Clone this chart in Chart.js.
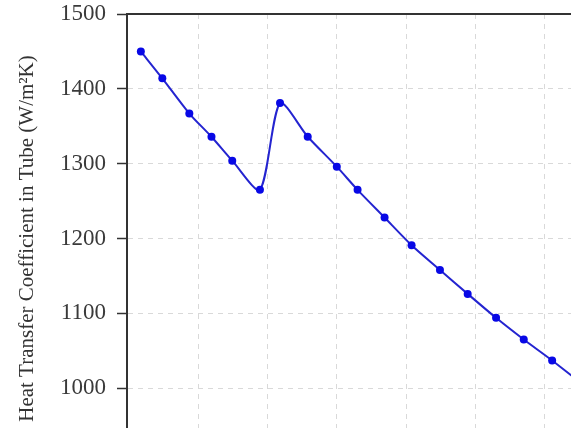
<!DOCTYPE html>
<html>
<head>
<meta charset="utf-8">
<script src="https://cdn.jsdelivr.net/npm/chart.js@4"></script>
<style>
  html, body { margin: 0; padding: 0; overflow: hidden; background: #fff; width: 571px; height: 428px; }
  canvas { position: absolute; left: 0; top: 0; }
</style>
</head>
<body>
<canvas id="c" width="700" height="480"></canvas>
<script>
// Position along the tube (grid units) and in-tube heat transfer coefficient
const positions    = [0.17, 0.48, 0.87, 1.19, 1.49, 1.89, 2.18, 2.58, 3.00, 3.30, 3.69, 4.08, 4.49, 4.89, 5.30, 5.70, 6.11, 6.51];
const coefficients = [1450, 1414, 1367, 1336, 1304, 1265, 1381, 1336, 1296, 1265, 1228, 1191, 1158, 1126, 1094, 1065, 1037, 1008];
const yTicks       = [900, 1000, 1100, 1200, 1300, 1400, 1500];
const xGridValues  = [1, 2, 3, 4, 5, 6, 7];
const yTitle       = 'Heat Transfer Coefficient in Tube (W/m²K)';

const points = positions.map((x, i) => ({ x, y: coefficients[i] }));
const serif = '"Liberation Serif", "Times New Roman", serif';

new Chart(document.getElementById('c'), {
  type: 'line',
  data: {
    datasets: [{
      data: points,
      borderColor: '#2424d0',
      borderWidth: 2,
      backgroundColor: '#0808e6',
      pointBackgroundColor: '#0808e6',
      pointBorderWidth: 0,
      pointRadius: 4,
      tension: 0.25,
      fill: false
    }]
  },
  options: {
    responsive: false,
    animation: false,
    layout: { padding: { top: 14, left: 0, right: 17, bottom: 17 } },
    plugins: { legend: { display: false }, tooltip: { enabled: false } },
    scales: {
      x: {
        type: 'linear',
        position: 'bottom',
        min: -0.03,
        max: 8,
        afterBuildTicks: s => { s.ticks = xGridValues.map(v => ({ value: v })); },
        ticks: { display: false },
        grid: { color: '#d9d9d9', lineWidth: 1, drawTicks: false },
        border: { display: true, color: '#333', width: 2, dash: [5, 5] }
      },
      xTop: {
        type: 'linear',
        position: 'top',
        min: -0.03,
        max: 8,
        ticks: { display: false },
        grid: { display: false, drawTicks: false },
        border: { display: true, color: '#333', width: 2 }
      },
      y: {
        type: 'linear',
        min: 900,
        max: 1500,
        afterBuildTicks: s => { s.ticks = yTicks.map(v => ({ value: v })); },
        afterFit: s => { s.width = 127; s.paddingTop = 0; s.paddingBottom = 0; },
        ticks: {
          padding: 11,
          color: '#3a3a3a',
          font: { family: serif, size: 23 },
          callback: v => String(v)
        },
        grid: {
          color: '#d9d9d9',
          lineWidth: 1,
          tickLength: 10,
          tickColor: '#333',
          tickWidth: 1.5,
          tickBorderDash: []
        },
        border: { display: true, color: '#333', width: 2, dash: [5, 5] },
        title: {
          display: true,
          text: yTitle,
          color: '#333',
          font: { family: serif, size: 21 },
          padding: { top: 15, bottom: 0 }
        }
      }
    }
  }
});
</script>
</body>
</html>
